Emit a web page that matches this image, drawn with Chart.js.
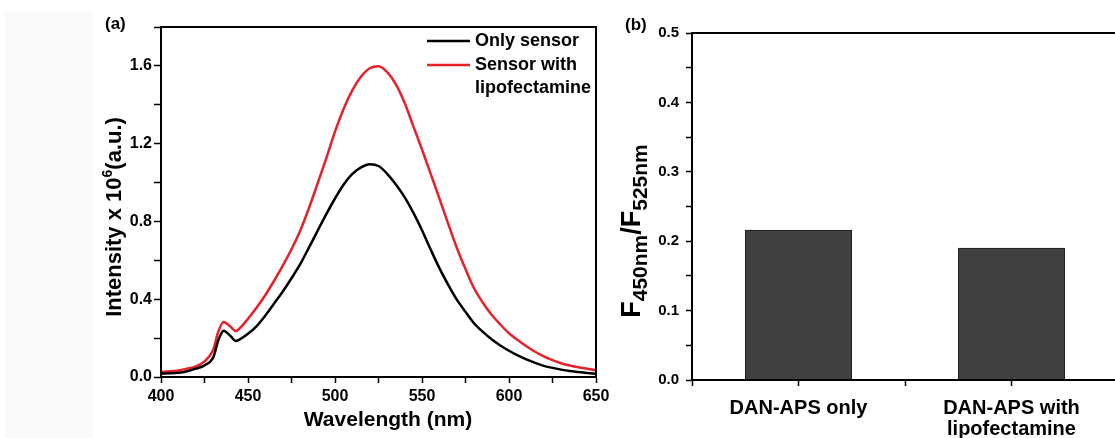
<!DOCTYPE html>
<html>
<head>
<meta charset="utf-8">
<script src="https://cdn.jsdelivr.net/npm/chart.js@4.4.1/dist/chart.umd.min.js"></script>
<style>
html, body { margin:0; padding:0; background:#fff; overflow:hidden; }
body { width:1115px; height:438px; position:relative; }
#shade { position:absolute; left:5px; top:12px; width:88px; height:426px; background:#fafafa; }
#chartA { position:absolute; left:0; top:0; }
#chartB { position:absolute; left:600px; top:0; }
</style>
</head>
<body>
<div id="shade"></div>
<canvas id="chartA" width="615" height="438"></canvas>
<canvas id="chartB" width="530" height="438"></canvas>
<script>
// panel (a): emission spectra
var wavelengths = [400,405,410,415,420,425,430,433,436,440,443,445,450,455,460,465,470,475,480,485,490,495,500,505,510,515,520,525,530,535,540,545,550,555,560,565,570,575,580,585,590,595,600,605,610,615,620,625,630,635,640,645,650];
var onlySensor = [0.017,0.019,0.022,0.030,0.043,0.060,0.100,0.190,0.238,0.210,0.185,0.192,0.222,0.262,0.316,0.378,0.440,0.508,0.580,0.665,0.752,0.838,0.918,0.990,1.045,1.078,1.094,1.085,1.045,0.990,0.925,0.845,0.755,0.655,0.560,0.475,0.398,0.335,0.275,0.232,0.194,0.162,0.135,0.111,0.091,0.073,0.057,0.047,0.038,0.031,0.026,0.021,0.017];
var withLipo = [0.026,0.029,0.034,0.043,0.055,0.080,0.140,0.235,0.283,0.258,0.237,0.248,0.300,0.358,0.422,0.495,0.573,0.657,0.752,0.868,0.995,1.125,1.262,1.380,1.475,1.545,1.588,1.598,1.568,1.505,1.410,1.290,1.170,1.045,0.918,0.790,0.665,0.555,0.455,0.382,0.320,0.270,0.225,0.190,0.158,0.130,0.106,0.087,0.071,0.059,0.050,0.042,0.034];
var seriesNames = ['Only sensor', 'Sensor with\nlipofectamine'];
var seriesColors = ['#000000', '#e8202a'];

// panel (b): ratio bars
var categories = ['DAN-APS only', 'DAN-APS with\nlipofectamine'];
var ratios = [0.216, 0.190];

var FONT = "'Liberation Sans', Arial, sans-serif";
Chart.defaults.font.family = FONT;
Chart.defaults.font.weight = 'bold';
Chart.defaults.color = '#000';

function richText(ctx, parts, x, y) {
  // parts: [text, size, dy]
  var total = 0;
  parts.forEach(function (p) {
    ctx.font = 'bold ' + p[1] + 'px ' + FONT;
    total += ctx.measureText(p[0]).width;
  });
  var cx = x - total / 2;
  parts.forEach(function (p) {
    ctx.font = 'bold ' + p[1] + 'px ' + FONT;
    ctx.fillText(p[0], cx, y + p[2]);
    cx += ctx.measureText(p[0]).width;
  });
}

var boxPlugin = {
  id: 'box',
  afterDraw: function (chart) {
    var a = chart.chartArea, ctx = chart.ctx;
    ctx.save();
    ctx.strokeStyle = '#000';
    ctx.lineWidth = 2;
    ctx.strokeRect(a.left, a.top, a.right - a.left, a.bottom - a.top);
    ctx.restore();
  }
};

var decorA = {
  id: 'decorA',
  afterDraw: function (chart) {
    var ctx = chart.ctx;
    ctx.save();
    ctx.fillStyle = '#000';
    ctx.textBaseline = 'alphabetic';
    ctx.textAlign = 'left';
    ctx.font = 'bold 17px ' + FONT;
    ctx.fillText('(a)', 105, 29);
    richText(ctx, [['Wavelength (nm)', 21, 0]], 388, 426);
    ctx.save();
    ctx.translate(121, 217);
    ctx.rotate(-Math.PI / 2);
    richText(ctx, [['Intensity x 10', 22, 0], ['6', 14, -9], ['(a.u.)', 22, 0]], 0, 0);
    ctx.restore();
    // legend
    var rows = [41, 65];
    chart.data.datasets.forEach(function (ds, i) {
      ctx.strokeStyle = ds.borderColor;
      ctx.lineWidth = 2.5;
      ctx.beginPath();
      ctx.moveTo(427, rows[i]);
      ctx.lineTo(470, rows[i]);
      ctx.stroke();
      ctx.font = 'bold 18px ' + FONT;
      ctx.textBaseline = 'middle';
      ds.label.split('\n').forEach(function (line, j) {
        ctx.fillText(line, 475, rows[i] + j * 23);
      });
    });
    ctx.restore();
  }
};

var decorB = {
  id: 'decorB',
  afterDraw: function (chart) {
    var ctx = chart.ctx;
    ctx.save();
    ctx.fillStyle = '#000';
    ctx.textAlign = 'left';
    ctx.textBaseline = 'alphabetic';
    ctx.font = 'bold 17px ' + FONT;
    ctx.fillText('(b)', 25, 30);
    ctx.translate(40, 231);
    ctx.rotate(-Math.PI / 2);
    richText(ctx, [['F', 27, 0], ['450nm', 21, 7], ['/', 27, 0], ['F', 27, 0], ['525nm', 21, 7]], 0, 0);
    ctx.restore();
  }
};

function axisStyle(len) {
  return {
    grid: { drawOnChartArea: false, drawTicks: true, tickLength: len, tickColor: '#000', tickWidth: 1.5, offset: false },
    border: { display: true, color: '#000', width: 2 }
  };
}

new Chart(document.getElementById('chartA'), {
  type: 'line',
  data: {
    datasets: [onlySensor, withLipo].map(function (vals, k) {
      return {
        label: seriesNames[k],
        data: wavelengths.map(function (w, i) { return { x: w, y: vals[i] }; }),
        borderColor: seriesColors[k],
        borderWidth: 2.5,
        pointRadius: 0,
        cubicInterpolationMode: 'monotone',
        fill: false
      };
    })
  },
  options: {
    responsive: false,
    animation: false,
    layout: { padding: { top: 27, right: 19, left: 0, bottom: 0 } },
    plugins: { legend: { display: false }, tooltip: { enabled: false } },
    scales: {
      x: Object.assign({
        type: 'linear', min: 400, max: 650,
        afterFit: function (s) { s.height = 61; },
        ticks: {
          stepSize: 25, autoSkip: false, maxRotation: 0, padding: 4,
          font: { size: 16, weight: 'bold' },
          callback: function (v) { return v % 50 === 0 ? String(v) : ''; }
        }
      }, axisStyle(6)),
      y: Object.assign({
        min: 0, max: 1.8,
        afterFit: function (s) { s.width = 161; },
        ticks: {
          stepSize: 0.2, autoSkip: false, padding: 2,
          font: { size: 16, weight: 'bold' },
          callback: function (v) {
            var q = v / 0.4;
            return Math.abs(q - Math.round(q)) < 1e-6 ? v.toFixed(1) : '';
          }
        }
      }, axisStyle(7))
    }
  },
  plugins: [boxPlugin, decorA]
});

new Chart(document.getElementById('chartB'), {
  type: 'bar',
  data: {
    datasets: [{
      label: 'F450nm/F525nm',
      data: ratios.map(function (r, i) { return { x: i + 1, y: r }; }),
      backgroundColor: '#404040',
      borderColor: '#1e1e1e',
      borderWidth: 1,
      barPercentage: 1,
      categoryPercentage: 1
    }]
  },
  options: {
    responsive: false,
    animation: false,
    layout: { padding: { top: 33, right: 8, left: 0, bottom: 0 } },
    plugins: { legend: { display: false }, tooltip: { enabled: false } },
    scales: {
      x: Object.assign({
        type: 'linear', min: 0.5, max: 2.5, offset: false,
        afterFit: function (s) { s.height = 58; },
        ticks: {
          stepSize: 0.5, autoSkip: false, maxRotation: 0, padding: 12,
          font: { size: 20, weight: 'bold', lineHeight: 1.05 },
          callback: function (v) { return Number.isInteger(v) ? categories[v - 1].split('\n') : ''; }
        }
      }, axisStyle(6)),
      y: Object.assign({
        min: 0, max: 0.5,
        afterFit: function (s) { s.width = 92; },
        ticks: {
          stepSize: 0.05, autoSkip: false, padding: 7,
          font: { size: 15, weight: 'bold' },
          callback: function (v) {
            var q = v * 10;
            return Math.abs(q - Math.round(q)) < 1e-6 ? v.toFixed(1) : '';
          }
        }
      }, axisStyle(6))
    }
  },
  plugins: [boxPlugin, decorB]
});
</script>
</body>
</html>
